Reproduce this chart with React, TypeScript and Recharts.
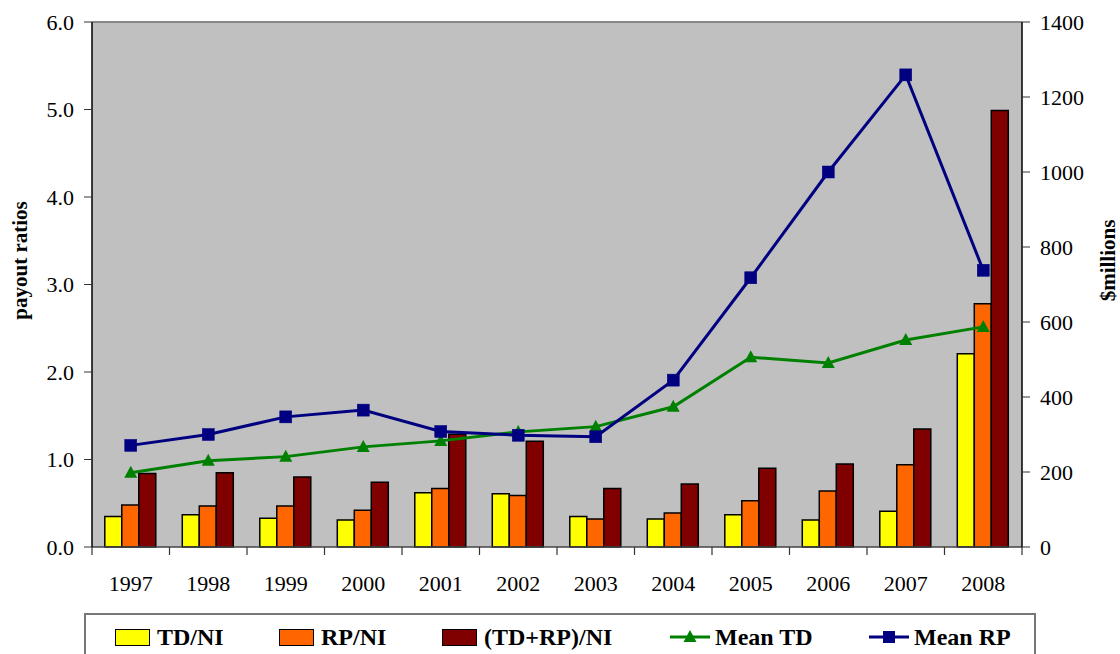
import React from "react";
import {
  ComposedChart,
  Bar,
  Line,
  XAxis,
  YAxis,
  CartesianGrid,
  ReferenceLine,
  Legend,
} from "recharts";

// values
const years = ["1997", "1998", "1999", "2000", "2001", "2002", "2003", "2004", "2005", "2006", "2007", "2008"];
const tdNi = [0.35, 0.37, 0.33, 0.31, 0.62, 0.61, 0.35, 0.32, 0.37, 0.31, 0.41, 2.21];
const rpNi = [0.48, 0.47, 0.47, 0.42, 0.67, 0.59, 0.32, 0.39, 0.53, 0.64, 0.94, 2.78];
const totNi = [0.84, 0.85, 0.8, 0.74, 1.29, 1.21, 0.67, 0.72, 0.9, 0.95, 1.35, 4.99];
const meanTd = [198, 230, 241, 267, 283, 307, 321, 374, 506, 491, 552, 587];
const meanRp = [271, 300, 347, 365, 308, 298, 294, 445, 718, 1000, 1259, 738];
const leftTicks = [0, 1, 2, 3, 4, 5, 6];
const rightTicks = [0, 200, 400, 600, 800, 1000, 1200, 1400];

const data = years.map((y, i) => ({
  year: y,
  tdNi: tdNi[i],
  rpNi: rpNi[i],
  totNi: totNi[i],
  meanTd: meanTd[i],
  meanRp: meanRp[i],
}));

const W = 1120;
const H = 654;
const LEFT_W = 92;
const RIGHT_W = 98;
const BAND = (W - LEFT_W - RIGHT_W) / years.length;
const FONT = "'Liberation Serif', 'Times New Roman', serif";

const YELLOW = "#FFFF00";
const ORANGE = "#FF6600";
const MAROON = "#800000";
const GREEN = "#008000";
const NAVY = "#000080";

const XTick = (props: any) => {
  const { x, y, index } = props;
  const last = index === years.length - 1;
  return (
    <g>
      <line x1={x - BAND / 2} x2={x - BAND / 2} y1={y} y2={y + 8} stroke="#333" strokeWidth={1.2} />
      {last && <line x1={x + BAND / 2} x2={x + BAND / 2} y1={y} y2={y + 8} stroke="#333" strokeWidth={1.2} />}
      <text x={x} y={y + 44} textAnchor="middle" fontSize={22} fontFamily={FONT} fill="#000">
        {props.payload.value}
      </text>
    </g>
  );
};

const SquareDot = (props: any) => {
  const { cx, cy } = props;
  if (cx == null || cy == null) return null;
  return <rect x={cx - 6} y={cy - 6} width={12} height={12} fill={NAVY} stroke={NAVY} strokeWidth={0.5} />;
};

const TriDot = (props: any) => {
  const { cx, cy } = props;
  if (cx == null || cy == null) return null;
  return <polygon points={`${cx},${cy - 7} ${cx - 6.5},${cy + 5} ${cx + 6.5},${cy + 5}`} fill={GREEN} />;
};

const LeftLabel = (props: any) => {
  const vb = props.viewBox || {};
  const cx = (vb.x ?? 0) + 20;
  const cy = (vb.y ?? 0) + (vb.height ?? 0) / 2 - 24;
  return (
    <text x={cx} y={cy} transform={`rotate(-90 ${cx} ${cy})`} textAnchor="middle" dominantBaseline="central"
      fontSize={21} fontWeight="bold" fontFamily={FONT} fill="#000">
      payout ratios
    </text>
  );
};

const RightLabel = (props: any) => {
  const vb = props.viewBox || {};
  const cx = (vb.x ?? 0) + 86;
  const cy = (vb.y ?? 0) + (vb.height ?? 0) / 2 - 24;
  return (
    <text x={cx} y={cy} transform={`rotate(-90 ${cx} ${cy})`} textAnchor="middle" dominantBaseline="central"
      fontSize={21} fontWeight="bold" fontFamily={FONT} fill="#000">
      $millions
    </text>
  );
};

const legendItems = [
  { label: "TD/NI", kind: "box", color: YELLOW, left: 29 },
  { label: "RP/NI", kind: "box", color: ORANGE, left: 193 },
  { label: "(TD+RP)/NI", kind: "box", color: MAROON, left: 356 },
  { label: "Mean TD", kind: "tri", color: GREEN, left: 584 },
  { label: "Mean RP", kind: "sq", color: NAVY, left: 783 },
];

const LegendBox = () => (
  <div style={{ position: "relative", width: 952, height: 60, borderTop: "2px solid #777", borderLeft: "2px solid #777", borderRight: "2px solid #777", background: "#fff", boxSizing: "border-box" }}>
    {legendItems.map(it => (
      <div key={it.label} style={{ position: "absolute", left: it.left, top: 9, display: "flex", alignItems: "center", height: 26 }}>
        {it.kind === "box" ? (
          <div style={{ width: 33, height: 15, background: it.color, border: "1.5px solid #000", marginRight: 7 }} />
        ) : (
          <svg width={40} height={16} style={{ marginRight: 5 }}>
            <line x1={0} x2={40} y1={8} y2={8} stroke={it.color} strokeWidth={3} />
            {it.kind === "tri"
              ? <polygon points="20,1 13.5,13 26.5,13" fill={it.color} />
              : <rect x={14} y={2} width={12} height={12} fill={it.color} />}
          </svg>
        )}
        <span style={{ fontFamily: FONT, fontWeight: "bold", fontSize: 24, color: "#000", whiteSpace: "nowrap" }}>{it.label}</span>
      </div>
    ))}
  </div>
);

export default function App() {
  return (
    <div style={{ position: "absolute", left: 0, top: 0, width: W, height: H, overflow: "hidden", background: "#fff" }}>
      <ComposedChart width={W} height={H} data={data} margin={{ top: 22, right: 0, left: 0, bottom: 67 }}
        barCategoryGap="16.5%" barGap={0}>
        <CartesianGrid fill="#C0C0C0" horizontal={false} vertical={false} yAxisId="left" />
        <XAxis dataKey="year" height={40} tick={<XTick />} tickLine={false} tickSize={0} tickMargin={0}
          axisLine={{ stroke: "#444", strokeWidth: 1.5 }} interval={0} />
        <YAxis yAxisId="left" width={LEFT_W} domain={[0, 6]} ticks={leftTicks} tickFormatter={(v: number) => v.toFixed(1)}
          tick={{ fontSize: 22, fontFamily: FONT, fill: "#000" }} tickSize={8} tickMargin={10}
          axisLine={{ stroke: "#000", strokeWidth: 1.5 }} tickLine={{ stroke: "#333" }} label={<LeftLabel />} />
        <YAxis yAxisId="right" orientation="right" width={RIGHT_W} domain={[0, 1400]} ticks={rightTicks}
          tick={{ fontSize: 22, fontFamily: FONT, fill: "#000" }} tickSize={8} tickMargin={10}
          axisLine={{ stroke: "#000", strokeWidth: 1.5 }} tickLine={{ stroke: "#333" }} label={<RightLabel />} />
        <ReferenceLine yAxisId="left" y={6} stroke="#888" strokeWidth={2} />
        <Bar yAxisId="left" dataKey="tdNi" name="TD/NI" fill={YELLOW} stroke="#000" strokeWidth={1.5} isAnimationActive={false} />
        <Bar yAxisId="left" dataKey="rpNi" name="RP/NI" fill={ORANGE} stroke="#000" strokeWidth={1.5} isAnimationActive={false} />
        <Bar yAxisId="left" dataKey="totNi" name="(TD+RP)/NI" fill={MAROON} stroke="#000" strokeWidth={1.5} isAnimationActive={false} />
        <Line yAxisId="right" dataKey="meanTd" name="Mean TD" stroke={GREEN} strokeWidth={3} dot={<TriDot />} activeDot={false} isAnimationActive={false} />
        <Line yAxisId="right" dataKey="meanRp" name="Mean RP" stroke={NAVY} strokeWidth={3} dot={<SquareDot />} activeDot={false} isAnimationActive={false} />
        <Legend layout="horizontal" verticalAlign="middle" align="center" content={<LegendBox />}
          wrapperStyle={{ left: 84, top: 613, width: 952, height: 60 }} />
      </ComposedChart>
    </div>
  );
}
